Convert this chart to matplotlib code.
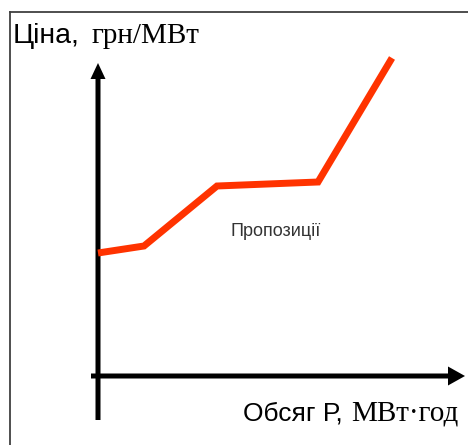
import matplotlib
matplotlib.use("Agg")
import matplotlib.pyplot as plt
from matplotlib.patches import FancyArrow
from matplotlib.lines import Line2D

# Supply curve (arbitrary units)
quantity = [0.0, 4.6, 11.9, 22.0, 29.4]
price = [12.3, 13.0, 19.0, 19.4, 31.8]
curve_label = "Пропозиції"
y_label_a = "Ціна,"
y_label_b = "грн/МВт"
x_label_a = "Обсяг Р,"
x_label_b = "МВт·год"

W, H = 468, 445
fig = plt.figure(figsize=(W / 100, H / 100), dpi=100)
ax = fig.add_axes([0, 0, 1, 1])
ax.set_xlim(-9.8, 37.0)
ax.set_ylim(-6.9, 37.6)
ax.axis("off")

# frame (left and top edges visible)
fx = 9.5 / W
fy = 1 - 11.5 / H
fig.add_artist(Line2D([fx, fx], [-0.01, fy], transform=fig.transFigure,
                      color="#404040", lw=1.3))
fig.add_artist(Line2D([fx, 1.01], [fy, fy], transform=fig.transFigure,
                      color="#404040", lw=1.3))

# axes arrows
ax.add_patch(FancyArrow(0, -4.4, 0, 35.7, width=0.5, head_width=1.5,
                        head_length=1.6, length_includes_head=True,
                        color="black", lw=0))
ax.add_patch(FancyArrow(-0.7, 0, 37.4, 0, width=0.5, head_width=1.9,
                        head_length=1.7, length_includes_head=True,
                        color="black", lw=0))

# curve
ax.plot(quantity, price, color="#ff3300", lw=5.0, solid_capstyle="butt",
        solid_joinstyle="miter", zorder=3)

ax.text(13.2, 14.0, curve_label, fontsize=13, family="Liberation Sans",
        color="#333333", va="baseline", ha="left")

ax.text(-8.5, 33.3, y_label_a, fontsize=20.5, family="Liberation Sans",
        va="baseline", ha="left")
ax.text(-0.6, 33.3, y_label_b, fontsize=21, family="Liberation Serif",
        va="baseline", ha="left")
ax.text(14.5, -4.4, x_label_a, fontsize=19, family="Liberation Sans",
        va="baseline", ha="left")
ax.text(25.3, -4.4, x_label_b, fontsize=21, family="Liberation Serif",
        va="baseline", ha="left")

fig.savefig("out.png", dpi=100, facecolor="white")
